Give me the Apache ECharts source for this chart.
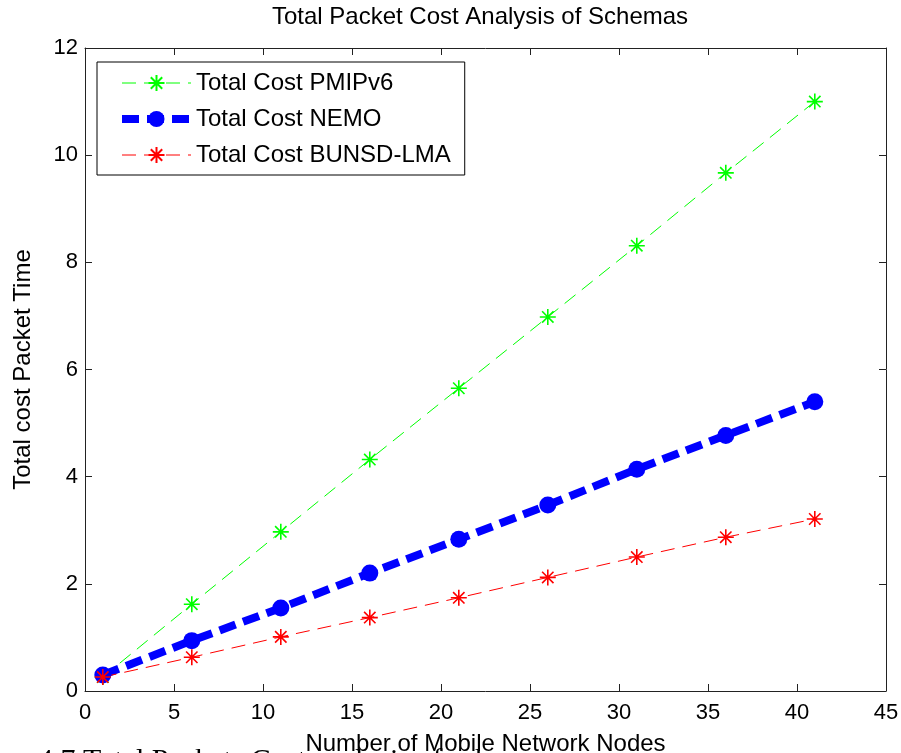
<!DOCTYPE html>
<html>
<head>
    <meta charset="utf-8">
    <title>Total Packet Cost Analysis of Schemas</title>
    <script src="https://cdn.jsdelivr.net/npm/echarts@6/dist/echarts.min.js"></script>
    <style>
        html, body {margin: 0; padding: 0; background: #fff;}
        #main {width: 901px; height: 753px;}
    </style>
</head>
<body>
<div id="main"></div>
<script type="text/javascript">
    // number of mobile network nodes
    var nodes = [1, 6, 11, 16, 21, 26, 31, 36, 41];
    // total cost values
    var costPMIPv6 = [0.26, 1.62, 2.97, 4.32, 5.65, 6.98, 8.31, 9.67, 11.0];
    var costNEMO = [0.30, 0.94, 1.55, 2.20, 2.83, 3.47, 4.14, 4.77, 5.40];
    var costBUNSD = [0.26, 0.63, 1.01, 1.37, 1.74, 2.12, 2.50, 2.87, 3.21];
    var seriesNames = ['Total Cost PMIPv6', 'Total Cost NEMO', 'Total Cost BUNSD-LMA'];

    var font = 'Liberation Sans, Arial, sans-serif';
    var star = 'path://M0,-8L0,8M-8,0L8,0M-5.7,-5.7L5.7,5.7M-5.7,5.7L5.7,-5.7';
    var thinDash = [14, 8];
    var thickDash = [17, 8];

    function pairs(ys) {
        return nodes.map(function (x, i) { return [x, ys[i]]; });
    }

    var frameLine = {show: true, onZero: false, lineStyle: {color: '#222', width: 1}};
    var frameTick = {show: true, inside: true, length: 7, lineStyle: {color: '#222', width: 1}};

    var myChart = echarts.init(document.getElementById('main'));

    var option = {
        animation: false,
        backgroundColor: '#fff',
        grid: {left: 85, right: 15, top: 48, bottom: 62, containLabel: false, outerBoundsMode: 'none'},
        graphic: [
            {
                type: 'text', x: 480, y: 5,
                style: {text: 'Total Packet Cost Analysis of Schemas', font: '24px ' + font, fill: '#000', textAlign: 'center', textVerticalAlign: 'top'}
            },
            {
                type: 'text', x: 38, y: 746,
                style: {text: '4.7 Total Packets Cost analysis of schemas', font: '30px Liberation Serif, Times New Roman, serif', fill: '#000', textVerticalAlign: 'top'}
            }
        ],
        legend: {
            orient: 'vertical',
            left: 97,
            top: 62,
            padding: [9, 14, 8, 21],
            itemWidth: 69,
            itemHeight: 20,
            itemGap: 12,
            borderColor: '#000',
            borderWidth: 1,
            backgroundColor: '#fff',
            textStyle: {fontFamily: font, fontSize: 24, color: '#000'},
            data: [
                {name: seriesNames[0], lineStyle: {width: 1, type: thinDash}},
                {name: seriesNames[1], lineStyle: {width: 8, type: thickDash}},
                {name: seriesNames[2], lineStyle: {width: 1, type: thinDash}}
            ]
        },
        xAxis: [
            {
                type: 'value', position: 'bottom', min: 0, max: 45, interval: 5,
                axisLine: frameLine, axisTick: frameTick, splitLine: {show: false},
                axisLabel: {fontFamily: font, fontSize: 22, color: '#000', margin: 11},
                name: 'Number of Mobile Network Nodes', nameLocation: 'middle', nameGap: 41,
                nameTextStyle: {fontFamily: font, fontSize: 24, color: '#000'}
            },
            {
                type: 'value', position: 'top', min: 0, max: 45, interval: 5,
                axisLine: frameLine, axisTick: frameTick, splitLine: {show: false},
                axisLabel: {show: false}
            }
        ],
        yAxis: [
            {
                type: 'value', position: 'left', min: 0, max: 12, interval: 2,
                axisLine: frameLine, axisTick: frameTick, splitLine: {show: false},
                axisLabel: {fontFamily: font, fontSize: 22, color: '#000', margin: 7},
                name: 'Total cost Packet Time', nameLocation: 'middle', nameGap: 50,
                nameTextStyle: {fontFamily: font, fontSize: 24, color: '#000'}
            },
            {
                type: 'value', position: 'right', min: 0, max: 12, interval: 2,
                axisLine: frameLine, axisTick: frameTick, splitLine: {show: false},
                axisLabel: {show: false}
            }
        ],
        series: [
            {
                name: seriesNames[0], type: 'line', data: pairs(costPMIPv6),
                symbol: star, symbolSize: 16,
                lineStyle: {color: '#00ff00', width: 1, type: thinDash},
                itemStyle: {color: '#00ff00', borderColor: '#00ff00', borderWidth: 1.6}
            },
            {
                name: seriesNames[1], type: 'line', data: pairs(costNEMO),
                symbol: 'circle', symbolSize: 17,
                lineStyle: {color: '#0000ff', width: 8, type: thickDash},
                itemStyle: {color: '#0000ff', borderColor: '#0000ff', borderWidth: 0}
            },
            {
                name: seriesNames[2], type: 'line', data: pairs(costBUNSD),
                symbol: star, symbolSize: 16,
                lineStyle: {color: '#ff0000', width: 1, type: thinDash},
                itemStyle: {color: '#ff0000', borderColor: '#ff0000', borderWidth: 1.6}
            }
        ]
    };

    myChart.setOption(option);
</script>
</body>
</html>
